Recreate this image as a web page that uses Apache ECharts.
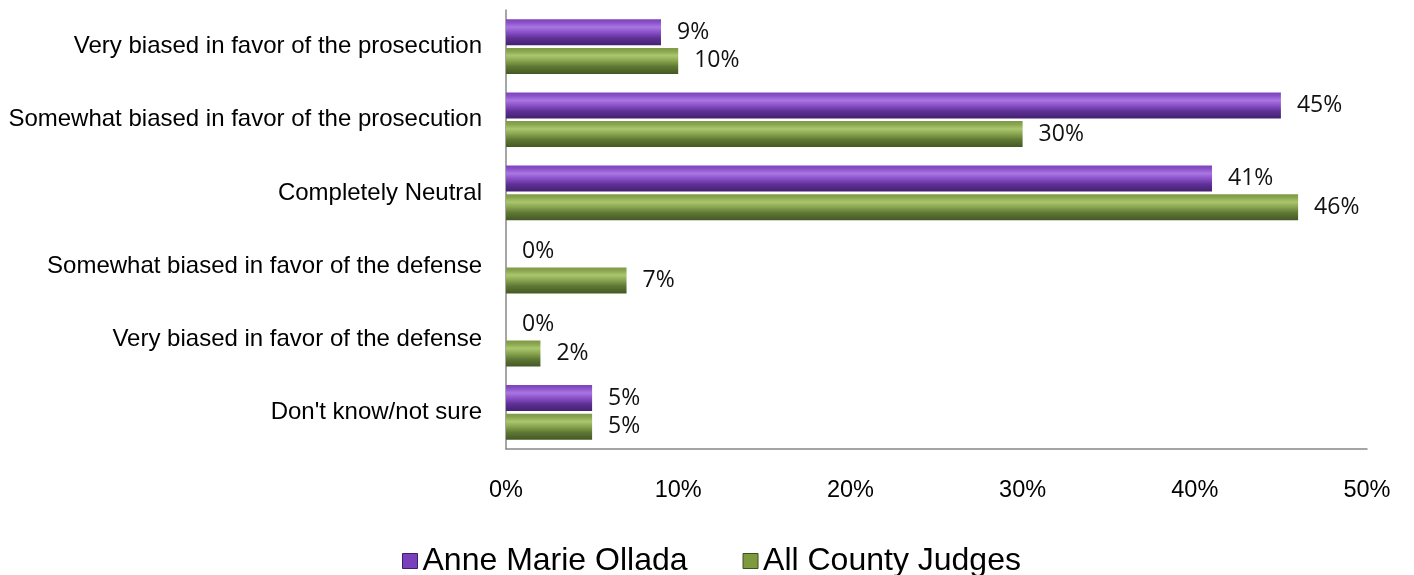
<!DOCTYPE html>
<html><head><meta charset="utf-8">
<script src="https://cdn.jsdelivr.net/npm/echarts@6/dist/echarts.min.js"></script>
<style>html,body{margin:0;padding:0;background:#fff}#c{width:1414px;height:575px}</style>
</head><body><div id="c"></div>
<script>
const categories = ["Very biased in favor of the prosecution","Somewhat biased in favor of the prosecution","Completely Neutral","Somewhat biased in favor of the defense","Very biased in favor of the defense","Don't know/not sure"];
const seriesNames = ["Anne Marie Ollada","All County Judges"];
const olladaValues = [9,45,41,0,0,5];
const judgesValues = [10,30,46,7,2,5];
const xTicks = [0,10,20,30,40,50];

const chart = echarts.init(document.getElementById('c'));
function grad(edge, light, mid, dark, darkest){
  return new echarts.graphic.LinearGradient(0,0,0,1,[
    {offset:0,color:edge},{offset:0.12,color:mid},{offset:0.3,color:light},{offset:0.5,color:mid},{offset:0.72,color:dark},{offset:1,color:darkest}
  ]);
}
const purple = grad('#7B43BA','#A976E2','#8A50C8','#5F3196','#43206F');
const green = grad('#7F9A46','#AAC76F','#88A44E','#5E7834','#445824');
const labelStyle = {show:true,position:'right',distance:16,formatter:p=>p.value+'%',fontFamily:'Open Sans',fontSize:23,color:'#111'};
chart.setOption({
  animation:false,
  grid:{left:506,right:47,top:10,bottom:126},
  legend:{left:397,top:540,itemWidth:15,itemHeight:15,itemGap:55,icon:'rect',
    textStyle:{fontFamily:'Liberation Sans',fontSize:32,color:'#000'},
    data:[{name:seriesNames[0],itemStyle:{color:'#7A3FBA',borderColor:'#3E1E6A',borderWidth:1}},{name:seriesNames[1],itemStyle:{color:'#7E9A3E',borderColor:'#3C4F1C',borderWidth:1}}]},
  xAxis:{type:'value',min:0,max:50,interval:10,
    axisLine:{show:true,lineStyle:{color:'#888',width:1.5}},axisTick:{show:false},splitLine:{show:false},
    axisLabel:{formatter:v=>xTicks.includes(v)?v+'%':'',margin:30,fontFamily:'Liberation Sans',fontSize:23.5,color:'#000'}},
  yAxis:{type:'category',data:categories,inverse:true,
    axisLine:{show:true,lineStyle:{color:'#888',width:1.5}},axisTick:{show:false},
    axisLabel:{margin:24,fontFamily:'Liberation Sans',fontSize:24,color:'#000'}},
  series:[
    {name:seriesNames[0],type:'bar',data:olladaValues,barWidth:26,barGap:'10%',
      itemStyle:{color:purple},label:labelStyle},
    {name:seriesNames[1],type:'bar',data:judgesValues,barWidth:26,
      itemStyle:{color:green},label:labelStyle}
  ]
});
</script></body></html>
